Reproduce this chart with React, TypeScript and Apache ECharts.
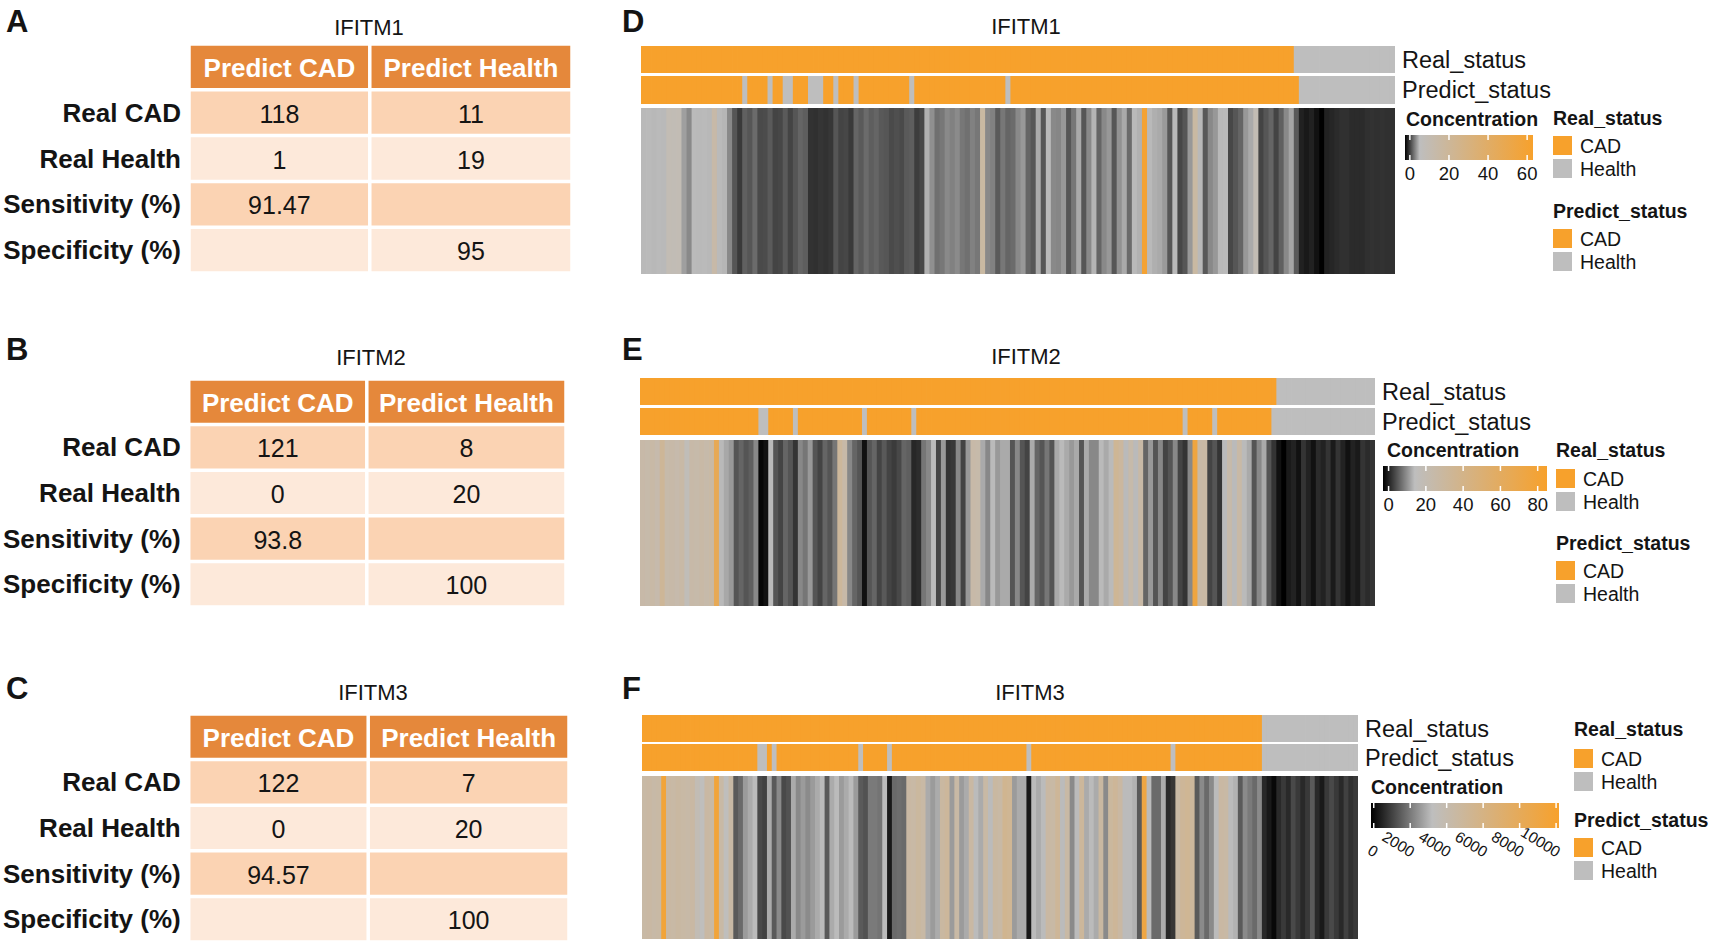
import React, { useEffect, useRef } from 'react';
import * as echarts from 'echarts';

// ---------------- data ----------------
const tableColumns = ['Predict CAD', 'Predict Health'];
const tableRows = ['Real CAD', 'Real Health', 'Sensitivity (%)', 'Specificity (%)'];
const tableIFITM1 = [[118, 11], [1, 19], [91.47, null], [null, 95]];
const tableIFITM2 = [[121, 8], [0, 20], [93.8, null], [null, 100]];
const tableIFITM3 = [[122, 7], [0, 20], [94.57, null], [null, 100]];

const genes = ['IFITM1', 'IFITM2', 'IFITM3'];
const statusCategories = ['CAD', 'Health'];

// columns whose predicted status differs from the real status
const predictFlipsIFITM1 = [20, 25, 28, 29, 33, 34, 35, 38, 42, 53, 72, 129];
const predictFlipsIFITM2 = [24, 25, 31, 45, 55, 110, 116, 128];
const predictFlipsIFITM3 = [24, 25, 27, 45, 51, 80, 110];

const concIFITM1 = [
  4.9, 5.0, 4.8, 5.0, 4.9, 9, 8.5, 9, 3.8, 2.9,
  5.0, 4.9, 5.0, 4.8, 14, 5.0, 4.7, 2.9, 0.9, -0.2,
  1.3, 0.9, 1.7, 0.4, 0.5, 1.05, 0.2, 0.3, 1.05, 0.2,
  0.9, 1.5, 1.2, -0.5, -0.6, -0.4, -0.5, -0.3, 0.9, 0.2,
  0.3, -0.2, 1.5, 1.05, 1.7, 1.2, 1.5, 1.0, 0.9, 0.4,
  0.6, 0.4, 1.05, 1.2, -0.1, 0.3, 4.45, 3.2, 1.9, 2.2,
  2.9, 2.6, 3.0, 2.2, 1.9, 2.6, 2.2, 16, 2.9, 2.6,
  1.05, 2.2, 1.5, 1.7, 2.9, 3.5, 1.5, 0.9, 4.2, 0.9,
  4.9, 2.9, 2.8, 3.5, 0.9, 2.2, 4.2, 0.9, 2.9, 4.6,
  1.5, 2.9, 3.5, 0.9, 3.3, 4.2, 1.7, 4.9, 4.5, 60,
  4.9, 4.4, 4.2, 3.6, 0.9, 4.9, 0.3, 0.9, 3.5, 16,
  4.9, 1.0, 2.9, 3.5, 4.9, 5.0, 0.3, 0.9, 1.5, 3.5,
  4.2, 9, 0.2, 0.9, 1.5, 0.2, 1.3, 2.9, 4.0, 1.0,
  -1.2, -1.5, -1.2, -1.8, -2.5, -1.2, -1.0, -0.8, -0.6, -0.6,
  -0.8, -0.8, -0.8, -0.6, -0.5, -0.6, -0.5, -0.6, -0.6,
];

const concIFITM2 = [
  25, 24, 26, 23, 33, 24, 25, 23, 26, 17,
  25, 24, 26, 24, 27, 65, 13.5, 12, 10.7, 4.6,
  6.1, 4.6, 5.5, 9.2, -2.5, -1.5, 13.7, 4.6, 3.1, 6.1,
  4.6, 1.6, 9.2, 7.6, 10.7, 4.6, 3.1, 6.1, 4.6, 7.6,
  31, 25, 9.2, 6.1, 4.6, -1.5, 4.6, 6.1, 3.1, 5.0,
  3.1, 2.2, 3.5, 6.1, 5.5, 0.5, 1.0, 7.6, 9.2, 13.7,
  3.1, 10.7, 1.6, 2.0, 9.2, 3.1, 10.7, 25, 24, 12.2,
  9.2, 13.7, 10.7, 12.2, 12.2, 4.6, 9.2, 4.6, 3.1, 12.2,
  6.1, 4.6, 7.6, 4.6, 12.2, 13.7, 12.2, 10.7, 12.2, 4.6,
  12.2, 9.2, 9.2, 13.7, 12.2, 13.7, 34, 30, 13.7, 24,
  13.7, 26, 6.1, 10.7, 4.6, 9.2, 3.1, 4.6, 9.2, 3.1,
  1.6, 9.2, 75, 26, 27, 3.1, 4.6, 1.6, 13.7, 24,
  13.7, 26, 13.7, 12.2, 4.6, 9.2, 12.2, 4.6, 1.6, -1.5,
  -3, -0.7, 0, -1.5, 1.6, 0, -1.5, 0.8, 0, 1.6,
  -0.7, 1.6, 0, -1.5, 0, -0.7, 1.6, 0.8, 1.6,
];

const concIFITM3 = [
  4400, 4500, 4300, 4400, 9500, 4500, 4400, 4600, 4400, 4300,
  4500, 3700, 3300, 4500, 4400, 9500, 4400, 3300, 4400, 1430,
  1720, 2580, 2860, 3150, 1150, 1000, 2860, 1430, 2290, 1150,
  1300, 2860, 2290, 2580, 2300, 2580, 2860, 3150, 1430, 2860,
  3150, 2580, 2860, 3150, 2580, 1430, 1300, 2000, 2000, 1900,
  3150, 300, 1720, 1800, 1720, 4500, 4400, 4700, 4400, 2860,
  2580, 2860, 4600, 4900, 2580, 4400, 2580, 2860, 4500, 3150,
  2860, 4400, 3150, 4600, 4400, 5400, 5200, 2580, 2860, 2860,
  300, 3150, 2860, 3150, 4500, 4400, 5000, 3150, 4400, 2290,
  3150, 4900, 2860, 3150, 2860, 4600, 2290, 4700, 5000, 4500,
  3150, 3150, 3000, 1430, 9000, 3150, 1720, 1720, 2860, 570,
  800, 4400, 5000, 5200, 4900, 1430, 2290, 1720, 2290, 3150,
  4500, 4400, 3150, 3000, 1430, 2290, 2000, 1720, 2290, 570,
  290, 0, 570, 860, 570, 1150, 860, 570, 860, 1430,
  570, 290, 860, 1150, 860, 570, 1000, 700, 860,
];

const concTicksIFITM1 = [0, 20, 40, 60];
const concTicksIFITM2 = [0, 20, 40, 60, 80];
const concTicksIFITM3 = [0, 2000, 4000, 6000, 8000, 10000];

// colour ramp knots (black -> grey -> orange) per gene, in concentration units
const rampIFITM1 = [-2.5, 5, 63];
const rampIFITM2 = [-3, 14, 85];
const rampIFITM3 = [-150, 3200, 10160];

// ---------------- styles / layout ----------------
const FONT = '"Liberation Sans", Arial, Helvetica, sans-serif';
const ORANGE = '#F7A12C';
const GREY = '#BEBEBE';
const HEADER = '#E5883B';
const ROW_DARK = '#FBD3B3';
const ROW_LIGHT = '#FDE9DA';
const INK = '#141414';
const COL_SPLIT = 0.472; // share of the table width taken by the first column

const layouts = [
  {
    letters: ['A', 'D'], letterY: 21, tableTitle: [369, 27],
    table: { left: 191, right: 570, top: 46, bottom: 271 },
    heat: { left: 641, right: 1395, realTop: 46, realH: 27, predTop: 76, predH: 28, top: 108, bottom: 274 },
    title: [1026, 26],
    conc: { textX: 1406, textY: 119, barX: 1405, barY: 135, barW: 128, barH: 25, labelY: 173, rotated: false },
    status: { x: 1553, realTitleY: 118, sw1: 136, predTitleY: 211, sw2: 229 },
  },
  {
    letters: ['B', 'E'], letterY: 349, tableTitle: [371, 357],
    table: { left: 188, right: 564, top: 381, bottom: 605 },
    heat: { left: 640, right: 1375, realTop: 378, realH: 27, predTop: 408, predH: 27, top: 440, bottom: 606 },
    title: [1026, 356],
    conc: { textX: 1387, textY: 450, barX: 1383, barY: 466, barW: 164, barH: 25, labelY: 504, rotated: false },
    status: { x: 1556, realTitleY: 450, sw1: 469, predTitleY: 543, sw2: 561 },
  },
  {
    letters: ['C', 'F'], letterY: 688, tableTitle: [373, 692],
    table: { left: 189, right: 567, top: 716, bottom: 940 },
    heat: { left: 642, right: 1358, realTop: 715, realH: 27, predTop: 744, predH: 27, top: 776, bottom: 939 },
    title: [1030, 692],
    conc: { textX: 1371, textY: 787, barX: 1371, barY: 803, barW: 188, barH: 25, labelY: 853, rotated: true },
    status: { x: 1574, realTitleY: 729, sw1: 749, predTitleY: 820, sw2: 838 },
  },
];

const tables = [tableIFITM1, tableIFITM2, tableIFITM3];
const flips = [predictFlipsIFITM1, predictFlipsIFITM2, predictFlipsIFITM3];
const concs = [concIFITM1, concIFITM2, concIFITM3];
const ticks = [concTicksIFITM1, concTicksIFITM2, concTicksIFITM3];
const ramps = [rampIFITM1, rampIFITM2, rampIFITM3];

function hexToRgb(h: string) {
  const v = parseInt(h.slice(1), 16);
  return [(v >> 16) & 255, (v >> 8) & 255, v & 255];
}
function mix(a: string, b: string, t: number) {
  const A = hexToRgb(a), B = hexToRgb(b);
  const c = A.map((x, i) => Math.round(x + (B[i] - x) * t));
  return `rgb(${c[0]},${c[1]},${c[2]})`;
}
function rampColors(r: number[]) {
  const [lo, mid, hi] = r;
  const out: string[] = [];
  const n = 90;
  for (let k = 0; k <= n; k++) {
    const v = lo + ((hi - lo) * k) / n;
    out.push(v <= mid ? mix('#000000', GREY, (v - lo) / (mid - lo)) : mix(GREY, ORANGE, (v - mid) / (hi - mid)));
  }
  return out;
}

function txt(text: string, x: number, y: number, o: any = {}) {
  const align = o.align || 'left';
  const va = o.va || 'middle';
  return {
    type: 'text', x, y, rotation: o.rotation || 0, silent: true,
    style: {
      text, x: 0, y: 0, fill: o.color || INK, fontSize: o.size || 20, fontWeight: o.weight || 'normal',
      fontFamily: FONT, align, textAlign: align, verticalAlign: va, textVerticalAlign: va,
    },
  };
}

function fmt(v: number | null) {
  return v === null || v === undefined ? '' : String(v);
}

export default function App() {
  const ref = useRef<HTMLDivElement>(null);

  useEffect(() => {
    document.body.style.margin = '0';
    if (!ref.current) return;
    const chart = echarts.init(ref.current, null, { renderer: 'svg' });

    const grid: any[] = [];
    const xAxis: any[] = [];
    const yAxis: any[] = [];
    const series: any[] = [];
    const graphic: any[] = [];
    const statusSeriesIdx: number[] = [];
    const visualMap: any[] = [];

    const nCols = concIFITM1.length;
    const colCats = concIFITM1.map((_, i) => String(i));

    const hiddenCat = (data: string[]) => ({ type: 'category', data, show: false, boundaryGap: true });

    const cellRender = (params: any, api: any) => {
      const i = api.value(0);
      const c = api.coord([i, 0]);
      const s = api.size([1, 1]);
      return {
        type: 'rect',
        shape: { x: c[0] - s[0] / 2, y: c[1] - s[1] / 2, width: s[0] + (i < nCols - 1 ? 0.8 : 0), height: s[1] },
        style: { fill: api.visual('color') },
      };
    };

    layouts.forEach((L, p) => {
      const tbl = tables[p];
      const base = grid.length;

      // ---- table grid ----
      grid.push({ left: L.table.left - 2, top: L.table.top - 2, width: L.table.right - L.table.left + 4, height: L.table.bottom - L.table.top + 4 });
      xAxis.push({ ...hiddenCat(tableColumns), gridIndex: base });
      yAxis.push({
        type: 'category', gridIndex: base, data: ['', ...tableRows], inverse: true,
        axisLine: { show: false }, axisTick: { show: false }, splitLine: { show: false },
        axisLabel: { fontSize: 26, fontWeight: 'bold', color: INK, fontFamily: FONT, margin: 8 },
      });
      const cells: number[][] = [];
      for (let r = 0; r <= tableRows.length; r++) for (let c = 0; c < tableColumns.length; c++) cells.push([c, r]);
      series.push({
        type: 'custom', coordinateSystem: 'cartesian2d', xAxisIndex: base, yAxisIndex: base, silent: true,
        data: cells,
        renderItem: (params: any, api: any) => {
          const c = api.value(0), r = api.value(1);
          const ctr = api.coord([c, r]);
          const s = api.size([1, 1]);
          const cs = params.coordSys;
          const gap = 3.5;
          const x0 = c === 0 ? cs.x : cs.x + cs.width * COL_SPLIT;
          const x1 = c === 0 ? cs.x + cs.width * COL_SPLIT : cs.x + cs.width;
          const fill = r === 0 ? HEADER : r % 2 === 1 ? ROW_DARK : ROW_LIGHT;
          const text = r === 0 ? tableColumns[c] : fmt(tbl[r - 1][c]);
          const head = r === 0;
          return {
            type: 'group',
            children: [
              { type: 'rect', shape: { x: x0 + gap / 2, y: ctr[1] - s[1] / 2 + gap / 2, width: x1 - x0 - gap, height: s[1] - gap }, style: { fill } },
              {
                type: 'text', x: (x0 + x1) / 2, y: ctr[1] + 1,
                style: {
                  text, x: 0, y: 0, fill: head ? '#FFFFFF' : INK, fontSize: head ? 26 : 25, fontWeight: head ? 'bold' : 'normal',
                  fontFamily: FONT, align: 'center', textAlign: 'center', verticalAlign: 'middle', textVerticalAlign: 'middle',
                },
              },
            ],
          };
        },
      });

      // ---- status and heat grids ----
      const W = L.heat.right - L.heat.left;
      const rows = [
        { top: L.heat.realTop, h: L.heat.realH, label: 'Real_status' },
        { top: L.heat.predTop, h: L.heat.predH, label: 'Predict_status' },
        { top: L.heat.top, h: L.heat.bottom - L.heat.top, label: '' },
      ];
      rows.forEach((rw, k) => {
        grid.push({ left: L.heat.left, top: rw.top, width: W, height: rw.h });
        xAxis.push({ ...hiddenCat(colCats), gridIndex: base + 1 + k });
        yAxis.push({
          type: 'category', gridIndex: base + 1 + k, data: [rw.label], position: 'right', show: k < 2,
          axisLine: { show: false }, axisTick: { show: false }, splitLine: { show: false },
          axisLabel: { fontSize: 23.5, color: INK, fontFamily: FONT, margin: 7 },
        });
      });

      const nCAD = tbl[0][0]! + tbl[0][1]!;
      const realStatus = concs[p].map((_, i) => (i < nCAD ? 0 : 1));
      const predStatus = realStatus.map((s, i) => (flips[p].includes(i) ? 1 - s : s));

      statusSeriesIdx.push(series.length);
      series.push({ type: 'custom', coordinateSystem: 'cartesian2d', xAxisIndex: base + 1, yAxisIndex: base + 1, silent: true,
        data: realStatus.map((s, i) => [i, 0, s]), renderItem: cellRender });
      statusSeriesIdx.push(series.length);
      series.push({ type: 'custom', coordinateSystem: 'cartesian2d', xAxisIndex: base + 2, yAxisIndex: base + 2, silent: true,
        data: predStatus.map((s, i) => [i, 0, s]), renderItem: cellRender });

      const heatIdx = series.length;
      series.push({ type: 'custom', coordinateSystem: 'cartesian2d', xAxisIndex: base + 3, yAxisIndex: base + 3, silent: true,
        data: concs[p].map((v, i) => [i, 0, v]), renderItem: cellRender });

      const [lo, mid, hi] = ramps[p];
      visualMap.push({ type: 'continuous', show: false, dimension: 2, seriesIndex: heatIdx, min: lo, max: hi, inRange: { color: rampColors(ramps[p]) } });

      // ---- texts ----
      graphic.push(txt(L.letters[0], 6, L.letterY, { size: 31, weight: 'bold' }));
      graphic.push(txt(L.letters[1], 622, L.letterY, { size: 31, weight: 'bold' }));
      graphic.push(txt(genes[p], L.tableTitle[0], L.tableTitle[1], { size: 22, align: 'center' }));
      graphic.push(txt(genes[p], L.title[0], L.title[1], { size: 22, align: 'center' }));

      // ---- concentration legend ----
      const C = L.conc;
      graphic.push(txt('Concentration', C.textX, C.textY, { size: 19.5, weight: 'bold' }));
      graphic.push({
        type: 'rect', silent: true, shape: { x: C.barX, y: C.barY, width: C.barW, height: C.barH },
        style: {
          fill: {
            type: 'linear', x: 0, y: 0, x2: 1, y2: 0,
            colorStops: [
              { offset: 0, color: '#000000' },
              { offset: (mid - lo) / (hi - lo), color: GREY },
              { offset: 1, color: ORANGE },
            ],
          },
        },
      });
      ticks[p].forEach((t) => {
        const tx = C.barX + ((t - lo) / (hi - lo)) * C.barW;
        graphic.push({ type: 'line', silent: true, shape: { x1: tx, y1: C.barY, x2: tx, y2: C.barY + 5 }, style: { stroke: '#FFFFFF', lineWidth: 1.5 } });
        graphic.push({ type: 'line', silent: true, shape: { x1: tx, y1: C.barY + C.barH - 5, x2: tx, y2: C.barY + C.barH }, style: { stroke: '#FFFFFF', lineWidth: 1.5 } });
        if (C.rotated) {
          graphic.push(txt(String(t), tx + 3, C.labelY, { size: 15.5, align: 'right', rotation: -0.55 }));
        } else {
          graphic.push(txt(String(t), tx, C.labelY, { size: 18.5, align: 'center' }));
        }
      });

      // ---- status legends ----
      const S = L.status;
      const legendBlock = (title: string, ty: number, sy: number) => {
        graphic.push(txt(title, S.x, ty, { size: 19.5, weight: 'bold' }));
        statusCategories.forEach((cat, k) => {
          const y = sy + k * 23;
          graphic.push({ type: 'rect', silent: true, shape: { x: S.x, y, width: 19, height: 19 }, style: { fill: k === 0 ? ORANGE : GREY } });
          graphic.push(txt(cat, S.x + 27, y + 10, { size: 19.5 }));
        });
      };
      legendBlock('Real_status', S.realTitleY, S.sw1);
      legendBlock('Predict_status', S.predTitleY, S.sw2);
    });

    visualMap.unshift({
      type: 'piecewise', show: false, dimension: 2, seriesIndex: statusSeriesIdx,
      pieces: [{ value: 0, color: ORANGE }, { value: 1, color: GREY }],
    });

    chart.setOption({
      animation: false,
      backgroundColor: '#FFFFFF',
      textStyle: { fontFamily: FONT },
      grid, xAxis, yAxis, series, visualMap,
      graphic: { elements: graphic },
    });

    return () => chart.dispose();
  }, []);

  return <div ref={ref} style={{ width: 1712, height: 946 }} />;
}
